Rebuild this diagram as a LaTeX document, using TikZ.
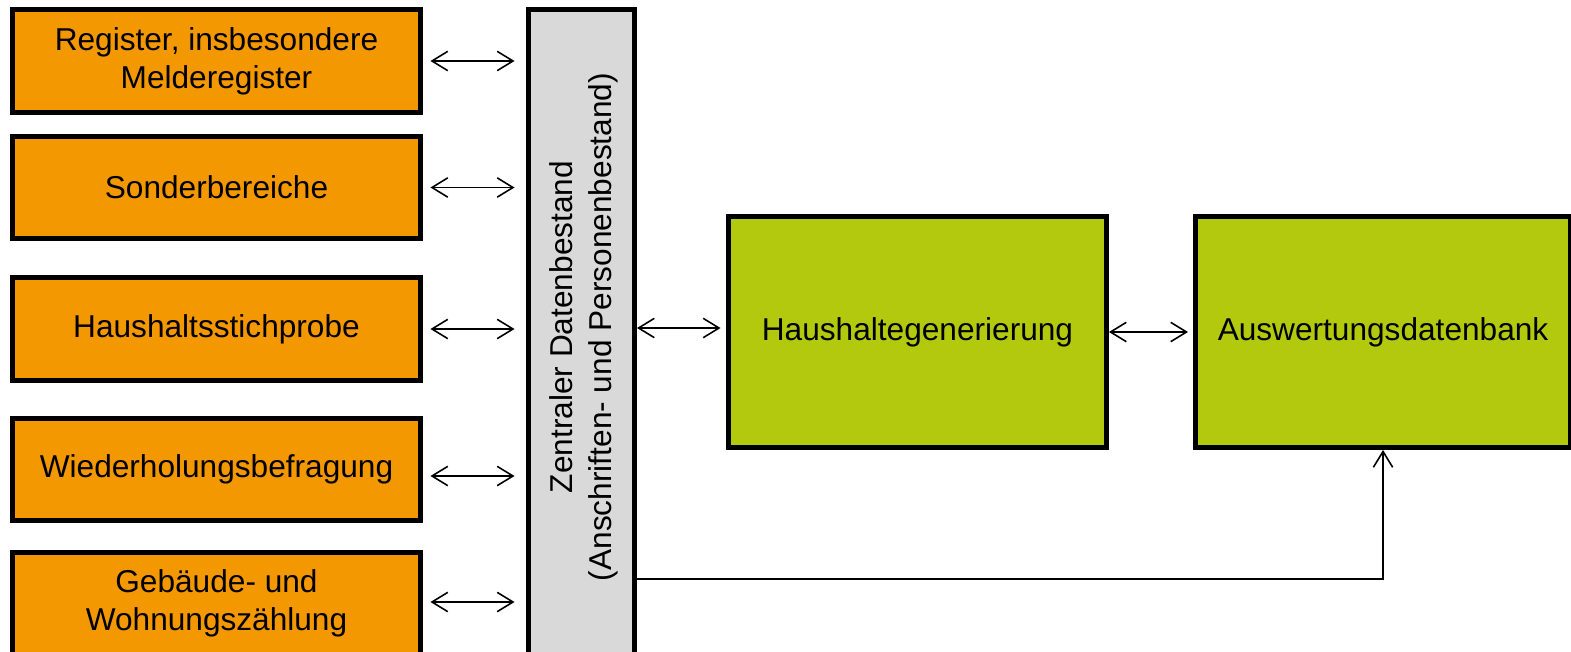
\documentclass[tikz,border=0pt]{standalone}
\usepackage{fontspec}
\setmainfont{Liberation Sans}
\usetikzlibrary{arrows.meta,calc}
\definecolor{orangebox}{RGB}{243,152,0}
\definecolor{greenbox}{RGB}{179,201,13}
\definecolor{graybar}{RGB}{217,217,217}
\tikzset{
  orangenode/.style={draw=black, line width=0.1cm, fill=orangebox, minimum width=8.16cm, minimum height=2.06cm, inner sep=0pt, align=center, font=\fontsize{18}{21.6}\selectfont},
  greennode/.style={draw=black, line width=0.1cm, fill=greenbox, minimum height=4.62cm, inner sep=0pt, align=center, font=\fontsize{18}{21.6}\selectfont},
  barnode/.style={draw=black, line width=0.1cm, fill=graybar, minimum width=2.12cm, minimum height=13.81cm, inner sep=0pt},
  dbl/.style={line width=0.9pt, {Straight Barb[length=9pt,width=11pt]}-{Straight Barb[length=9pt,width=11pt]}},
  sgl/.style={line width=0.9pt, -{Straight Barb[length=9pt,width=11pt]}},
}
\begin{document}
\begin{tikzpicture}[x=0.02cm, y=-0.02cm]
\useasboundingbox (0,0) rectangle (1571,652);
\clip (0,0) rectangle (1571,652);
\node[orangenode] (o1) at (216.5,61) {Register, insbesondere\\Melderegister};
\node[orangenode] (o2) at (216.5,187.5) {Sonderbereiche};
\node[orangenode] (o3) at (216.5,329) {Haushaltsstichprobe};
\node[orangenode] (o4) at (216.5,469.5) {Wiederholungsbefragung};
\node[orangenode] (o5) at (216.5,603.5) {Gebäude- und\\Wohnungszählung};
\node[barnode] (zb) at (581.5,354.75) {};
\node[rotate=90, align=center, font=\fontsize{18}{22}\selectfont] (zbt) at (584,327) {Zentraler Datenbestand\\(Anschriften- und Personenbestand)};
\node[greennode, minimum width=7.56cm] (g1) at (917.5,332) {Haushaltegenerierung};
\node[greennode, minimum width=7.52cm] (g2) at (1383,332) {Auswertungsdatenbank};
% arrows orange <-> bar
\draw[dbl, shorten <=0.15cm, shorten >=0.23cm] (o1.east) -- (o1.east -| zb.west);
\draw[dbl, shorten <=0.15cm, shorten >=0.23cm] (o2.east) -- (o2.east -| zb.west);
\draw[dbl, shorten <=0.15cm, shorten >=0.23cm] (o3.east) -- (o3.east -| zb.west);
\coordinate (o4a) at ($(o4.east)+(0,6.5)$);
\draw[dbl, shorten <=0.15cm, shorten >=0.23cm] (o4a) -- (o4a -| zb.west);
\coordinate (o5a) at ($(o5.east)+(0,-1.5)$);
\draw[dbl, shorten <=0.15cm, shorten >=0.23cm] (o5a) -- (o5a -| zb.west);
% bar <-> g1
\coordinate (ga) at ($(g1.west)+(0,-4)$);
\draw[dbl, shorten >=0.11cm] (ga -| zb.east) -- (ga);
% g1 <-> g2
\draw[dbl, shorten >=0.09cm] (g1.east) -- (g2.west);
% bar -> g2 bottom
\coordinate (bc) at ($(zb.east)+(0,224.25)$);
\draw[sgl] (bc) -| (g2.south);
\end{tikzpicture}
\end{document}
